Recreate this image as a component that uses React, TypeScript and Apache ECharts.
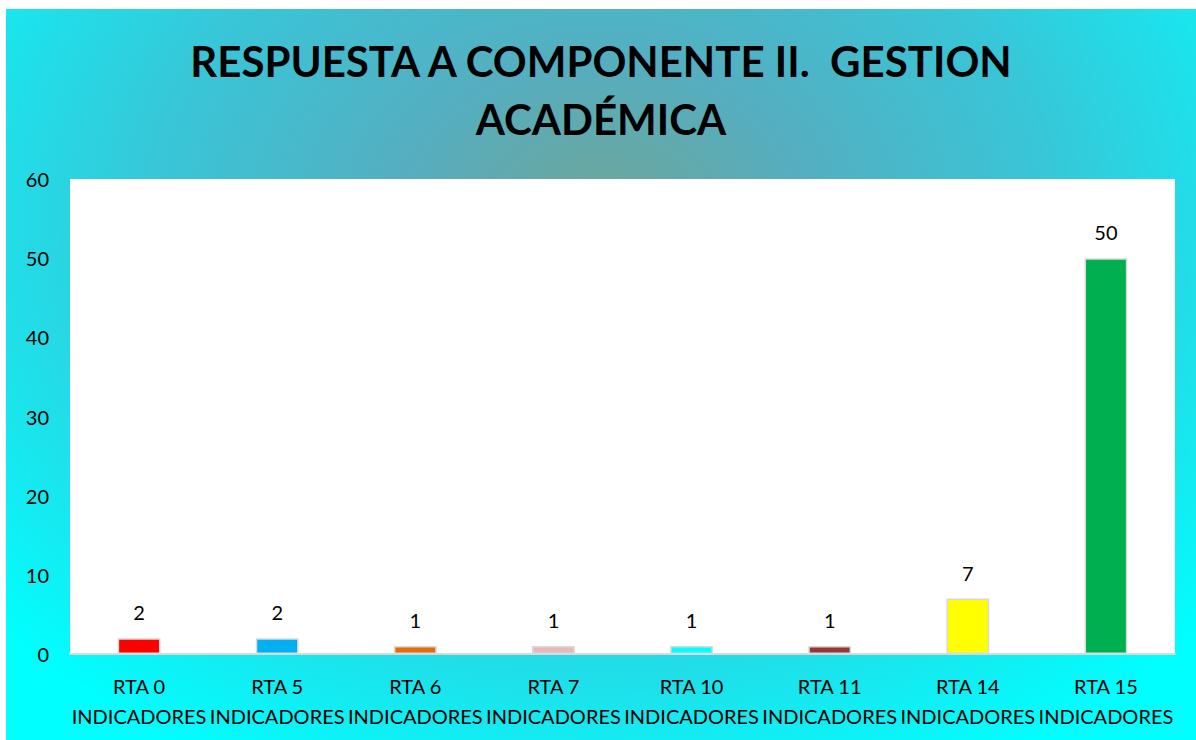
import React, { useEffect, useRef } from "react";
import * as echarts from "echarts";

const categories = [
  "RTA 0\nINDICADORES",
  "RTA 5\nINDICADORES",
  "RTA 6\nINDICADORES",
  "RTA 7\nINDICADORES",
  "RTA 10\nINDICADORES",
  "RTA 11\nINDICADORES",
  "RTA 14\nINDICADORES",
  "RTA 15\nINDICADORES",
];
const values = [2, 2, 1, 1, 1, 1, 7, 50];
const barColors = ["#FF0000", "#00B0F0", "#E46C0A", "#E6B9B8", "#00FFFF", "#953735", "#FFFF00", "#00B050"];
const titleText = "RESPUESTA A COMPONENTE II.  GESTION\nACADÉMICA";

export default function App() {
  const ref = useRef<HTMLDivElement>(null);
  useEffect(() => {
    if (!ref.current) return;
    const chart = echarts.init(ref.current, null, { renderer: "svg" });
    const font = "Lato, 'Open Sans', sans-serif";
    chart.setOption({
      animation: false,
      backgroundColor: "transparent",
      title: {
        text: titleText,
        left: "center",
        top: 18,
        textStyle: {
          fontFamily: font,
          fontSize: 42,
          fontWeight: "bold",
          color: "#000",
          lineHeight: 58,
        },
      },
      grid: { left: 64, right: 21, top: 170, bottom: 86, containLabel: false },
      xAxis: {
        type: "category",
        data: categories,
        axisLine: { lineStyle: { color: "#D9D9D9", width: 2 } },
        axisTick: { show: false },
        axisLabel: {
          fontFamily: font,
          fontSize: 20,
          color: "#000",
          lineHeight: 30,
          margin: 17,
          interval: 0,
        },
      },
      yAxis: {
        type: "value",
        min: 0,
        max: 60,
        interval: 10,
        splitLine: { show: false },
        axisLine: { show: false },
        axisTick: { show: false },
        axisLabel: {
          fontFamily: font,
          fontSize: 20,
          color: "#000",
          margin: 21,
        },
      },
      series: [
        {
          type: "bar",
          barWidth: "31%",
          data: values.map((v, i) => ({
            value: v,
            itemStyle: { color: barColors[i], borderColor: "#D9D9D9", borderWidth: 1.5 },
          })),
          label: {
            show: true,
            position: "top",
            distance: 16,
            fontFamily: font,
            fontSize: 20,
            color: "#000",
          },
        },
      ],
    });
    return () => chart.dispose();
  }, []);
  return (
    <div
      style={{
        position: "absolute",
        left: 6,
        top: 9,
        width: 1190,
        height: 731,
        background:
          "radial-gradient(ellipse 68% 85% at 50% 28%, #6fa598 0%, #55aec0 25%, #38c6d8 55%, #00ffff 100%)",
      }}
    >
      <div style={{ position: "absolute", left: 64, top: 170, width: 1105, height: 475, background: "#fff" }} />
      <div ref={ref} style={{ position: "absolute", left: 0, top: 0, width: 1190, height: 731 }} />
    </div>
  );
}
